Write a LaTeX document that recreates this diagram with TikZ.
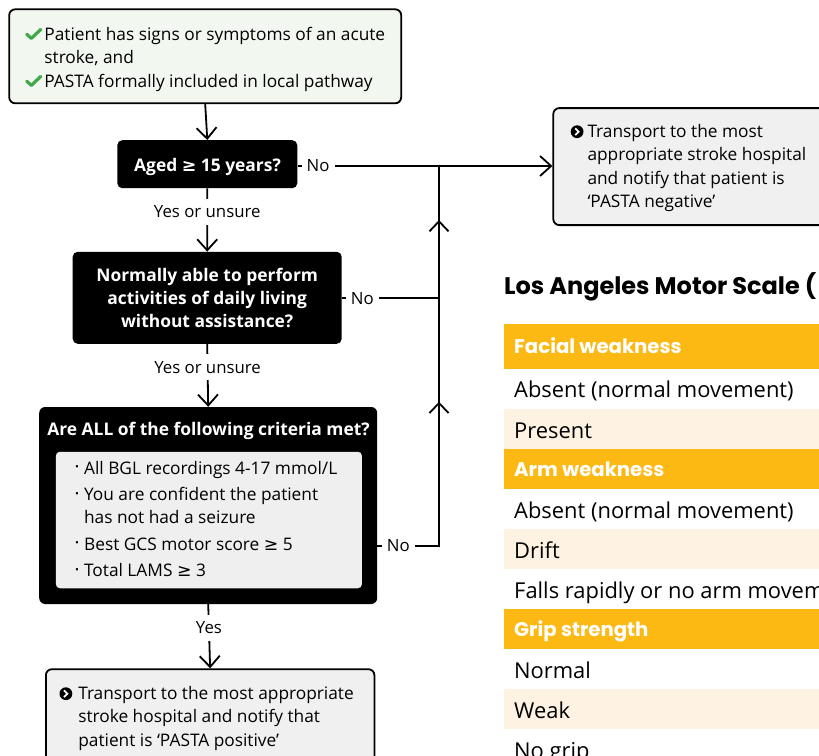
\documentclass[tikz,border=0pt]{standalone}
\usepackage{fontspec}
\setmainfont{Open Sans}
\newfontfamily\symfont{DejaVu Sans}
\newfontfamily\headfont{Poppins}
\usetikzlibrary{arrows.meta}
\definecolor{chkgreen}{HTML}{41A84A}
\definecolor{lams}{HTML}{FDB913}
\definecolor{cream}{HTML}{FEF3E3}
\definecolor{boxgrey}{HTML}{F0F0F0}
\definecolor{innergrey}{HTML}{EFEFEF}
\definecolor{boxgreen}{HTML}{F2F7EF}
\newcommand\chk{\tikz[baseline=0pt,x=1pt,y=1pt]{\draw[chkgreen,line width=3.2pt,line cap=round,line join=round] (1.5,5.8) -- (6,1.6) -- (15.5,10.6);}}
\newcommand\mygeq{{\symfont ≥}}
\newcommand\circarr{\tikz[baseline=0pt,x=1pt,y=1pt]{\fill[black] (0,5.6) circle (6.4); \draw[white,line width=1.8pt] (-1.9,9.0) -- (1.5,5.6) -- (-1.9,2.2);}}
\newcommand\bul{\raisebox{3.4pt}{\scalebox{0.6}{\textbullet}}}
\tikzset{
  flow/.style={line width=1.8pt, draw=black},
  arr/.style={flow, -{Straight Barb[length=11pt, width=20pt, line width=1.8pt]}},
  decision/.style={fill=black, rounded corners=5pt, inner sep=0pt},
  dectext/.style={anchor=base, inner sep=0pt, text=white, font=\bfseries\fontsize{17.4}{23}\selectfont},
  infobox/.style={draw=black, line width=1.8pt, rounded corners=6pt, fill=boxgrey},
  lbl/.style={fill=white, inner xsep=5pt, inner ysep=7pt, font=\fontsize{16.8}{19}\selectfont},
  txt/.style={anchor=base west, inner sep=0pt, font=\fontsize{17.3}{23.5}\selectfont},
  hdrrow/.style={fill=lams, draw=none},
  creamrow/.style={fill=cream, draw=none},
  hdrtext/.style={anchor=base west, inner sep=0pt, text=white, font=\headfont\bfseries\fontsize{19.7}{20}\selectfont},
  bodytext/.style={anchor=base west, inner sep=0pt, font=\fontsize{21.9}{24}\selectfont},
}
\begin{document}
\begin{tikzpicture}[x=1pt, y=-1pt]
\useasboundingbox (0,0) rectangle (819,755);
\clip (0,0) rectangle (819,755);
\fill[white] (0,0) rectangle (819,755);

% ---------- start box ----------
\node[draw=black, line width=1.8pt, rounded corners=6pt, fill=boxgreen,
      minimum width=392, minimum height=94] (start) at (205.2,56.3) {};
\node[txt] (starttext) at (25,40) {\begin{tabular}[t]{@{}l@{\hspace{2pt}}l@{}}
  \chk & Patient has signs or symptoms of an acute\\
       & stroke, and\\
  \chk & PASTA formally included in local pathway
  \end{tabular}};

% ---------- decisions ----------
\node[decision, minimum width=180, minimum height=48] (q1) at (207.3,164.2) {};
\node[dectext] (q1text) at (207.5,171.7) {Aged \mygeq\ 15 years?};
\node[decision, minimum width=269, minimum height=92] (q2) at (207.2,297.8) {};
\node[dectext] (q2text) at (207.2,281.7) {\begin{tabular}[t]{@{}c@{}}Normally able to perform\\activities of daily living\\without assistance?\end{tabular}};
\node[fill=black, rounded corners=6pt, minimum width=338, minimum height=197] (q3) at (208.2,505.5) {};
\node[dectext] (q3head) at (208.5,435) {Are ALL of the following criteria met?};
\node[fill=innergrey, rounded corners=4pt, minimum width=306, minimum height=136.5] (crit) at (208.9,520) {};
\node[anchor=base west, inner sep=0pt, font=\fontsize{17.3}{23}\selectfont] (crittext) at (75,474)
 {\begin{tabular}[t]{@{}l@{\hspace{5pt}}l@{}}
  \bul & All BGL recordings 4-17 mmol/L\\[3.5pt]
  \bul & You are confident the patient\\
       & has not had a seizure\\[3.5pt]
  \bul & Best GCS motor score \mygeq\ 5\\[3.5pt]
  \bul & Total LAMS \mygeq\ 3
  \end{tabular}};

% ---------- outcome boxes ----------
\node[infobox, minimum width=300, minimum height=117] (neg) at (703.3,166.6) {};
\node[txt] (negtext) at (570.5,137.3) {\begin{tabular}[t]{@{}l@{\hspace{4pt}}l@{}}
  \circarr & Transport to the most\\
           & appropriate stroke hospital\\
           & and notify that patient is\\
           & ‘PASTA negative’
  \end{tabular}};
\node[infobox, anchor=north west, minimum width=328.5, minimum height=120] (pos) at (45,668.3) {};
\node[txt] (postext) at (59.3,699.3) {\begin{tabular}[t]{@{}l@{\hspace{6pt}}l@{}}
  \circarr & Transport to the most appropriate\\
           & stroke hospital and notify that\\
           & patient is ‘PASTA positive’
  \end{tabular}};

% ---------- junction coordinates ----------
\coordinate (j1) at (439,166);
\coordinate (j2) at (439,298.3);
\coordinate (j3) at (439,546);
\coordinate (up1) at (439,220);
\coordinate (up2) at (439,401.7);

% ---------- connectors ----------
\draw[arr] (start.south) -- (q1.north);
\draw[arr] (q1.south) -- (q2.north) node[lbl, pos=0.37] (yes1) {Yes or unsure};
\draw[arr] (q2.south) -- (q3.north) node[lbl, pos=0.37] (yes2) {Yes or unsure};
\draw[arr] (q3.south) -- (pos.north) node[lbl, pos=0.37] (yes3) {Yes};
\draw[arr] (q1.east |- j1) -- (neg.west |- j1) node[lbl, pos=0.081] (no1) {No};
\draw[flow] (q2.east |- j2) -- (j2) node[lbl, pos=0.21] (no2) {No};
\draw[flow] (q3.east |- j3) -- (j3) node[lbl, pos=0.34] (no3) {No};
\draw[flow, line cap=rect] (j3) -- (up2);
\draw[flow] (up2) -- (j2) -- (up1) -- (j1);
\draw[flow, -{Straight Barb[length=10pt, width=19pt, line width=1.8pt]}] (j2) -- (up1);
\draw[flow, -{Straight Barb[length=10pt, width=19pt, line width=1.8pt]}] (j3) -- (up2);

% ---------- LAMS table ----------
\node[anchor=base west, inner sep=0pt, font=\headfont\bfseries\fontsize{24}{26}\selectfont] (title) at (504,294) {Los Angeles Motor Scale (};

\fill[hdrrow] (504,324.3) rectangle (830,369);
\fill[creamrow] (504,409.3) rectangle (830,449.3);
\fill[hdrrow] (504,449.3) rectangle (830,489.3);
\fill[creamrow] (504,529.3) rectangle (830,569.3);
\fill[hdrrow] (504,609.3) rectangle (830,649.3);
\fill[creamrow] (504,689.3) rectangle (830,729.3);

\node[hdrtext] (h1) at (514,353.3) {Facial weakness};
\node[bodytext] (r1) at (514,397.3) {Absent (normal movement)};
\node[bodytext] (r2) at (514,438.3) {Present};
\node[hdrtext] (h2) at (514,476) {Arm weakness};
\node[bodytext] (r3) at (514,518.3) {Absent (normal movement)};
\node[bodytext] (r4) at (514,558.3) {Drift};
\node[bodytext] (r5) at (514,598.3) {Falls rapidly or no arm movement};
\node[hdrtext] (h3) at (514,636.7) {Grip strength};
\node[bodytext] (r6) at (514,678.3) {Normal};
\node[bodytext] (r7) at (514,718.3) {Weak};
\node[bodytext] (r8) at (514,758.3) {No grip};
\end{tikzpicture}
\end{document}
